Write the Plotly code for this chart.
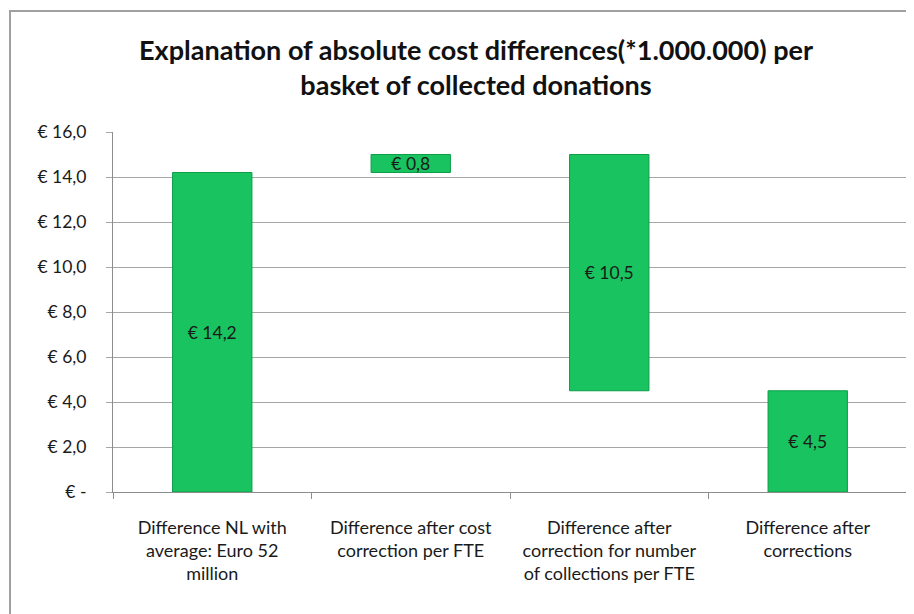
import plotly.graph_objects as go

categories = [
    "Difference NL with<br>average: Euro 52<br>million",
    "Difference after cost<br>correction per FTE",
    "Difference after<br>correction for number<br>of collections per FTE",
    "Difference after<br>corrections",
]
bar_base = [0.0, 14.2, 4.5, 0.0]
bar_value = [14.2, 0.8, 10.5, 4.5]
bar_text = ["€ 14,2", "€ 0,8", "€ 10,5", "€ 4,5"]

y_tickvals = [0, 2, 4, 6, 8, 10, 12, 14, 16]
y_ticktext = ["€ -", "€ 2,0", "€ 4,0", "€ 6,0", "€ 8,0", "€ 10,0", "€ 12,0", "€ 14,0", "€ 16,0"]

title_txt = "Explanation of absolute cost differences(*1.000.000) per<br>basket of collected donations"

font_family = "Lato, Open Sans, sans-serif"
grid_col = "#a6a6a6"

# the page body has an 8px margin, so the figure is a bit smaller than the window
fig = go.Figure()
fig.add_trace(go.Bar(
    x=categories,
    y=bar_value,
    base=bar_base,
    width=0.4,
    text=bar_text,
    textposition="inside",
    insidetextanchor="middle",
    constraintext="none",
    textfont=dict(family=font_family, size=17.5, color="#1a1a1a"),
    marker=dict(color="#19c35f", line=dict(color="#0e9e4a", width=1)),
    hoverinfo="skip",
))

fig.update_layout(
    width=906,
    height=606,
    margin=dict(l=105, r=7, t=124, b=122),
    paper_bgcolor="white",
    plot_bgcolor="white",
    showlegend=False,
    font=dict(family=font_family, size=17, color="#1a1a1a"),
    title=dict(
        text="<b>" + title_txt + "</b>",
        x=0.5166,
        xanchor="center",
        y=0.915,
        yanchor="middle",
        font=dict(family=font_family, size=27, color="#111111"),
    ),
    xaxis=dict(
        showgrid=False,
        showline=True,
        linecolor="#8c8c8c",
        linewidth=1,
        ticks="outside",
        tickson="boundaries",
        ticklen=6,
        tickcolor="#8c8c8c",
        tickfont=dict(family=font_family, size=18, color="#1a1a1a"),
        ticklabelstandoff=19,
        fixedrange=True,
    ),
    yaxis=dict(
        range=[0, 16],
        tickvals=y_tickvals,
        ticktext=y_ticktext,
        showgrid=True,
        gridcolor=grid_col,
        gridwidth=1,
        zeroline=False,
        showline=True,
        linecolor="#8c8c8c",
        linewidth=1,
        ticks="outside",
        ticklen=6,
        tickcolor=grid_col,
        tickfont=dict(family=font_family, size=17.5, color="#1a1a1a"),
        ticklabelstandoff=16,
        fixedrange=True,
    ),
    shapes=[
        dict(
            type="rect", xref="paper", yref="paper",
            x0=-0.1297, y0=-0.4, x1=1.05, y1=1.336,
            line=dict(color="#a0a0a0", width=2),
            layer="below",
        ),
    ],
)

fig.write_html("out.html")
